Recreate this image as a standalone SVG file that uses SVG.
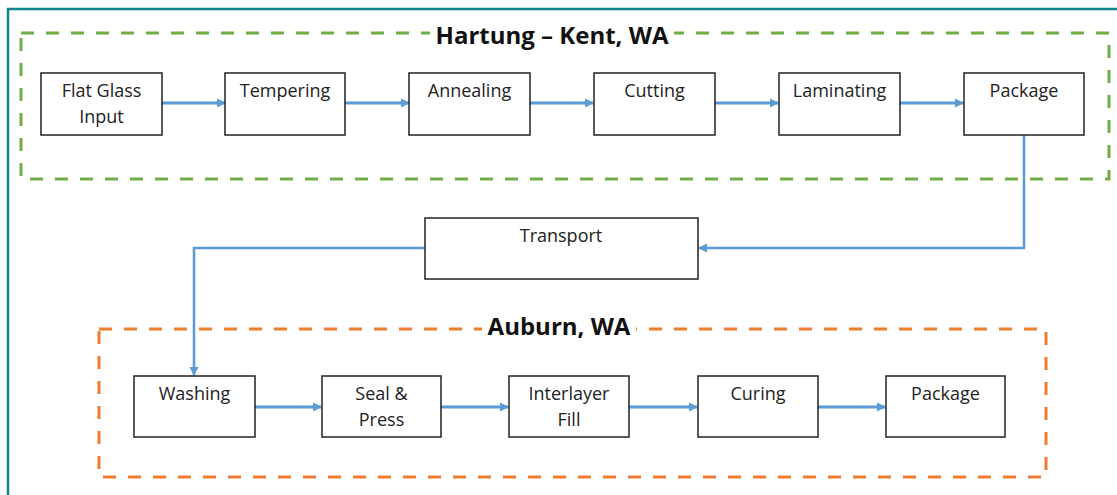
<svg xmlns="http://www.w3.org/2000/svg" width="1117" height="495" viewBox="0 0 1117 495">
<defs>
<marker id="ah" markerWidth="10" markerHeight="10" refX="8" refY="5" orient="auto" markerUnits="userSpaceOnUse">
<path d="M0,0.5 L9,5 L0,9.5 Z" fill="#5b9bd5"/>
</marker>
<style>
.box{fill:#fff;stroke:#222;stroke-width:1.5}
.t{font-family:"Open Sans","Liberation Sans",Arial,sans-serif;font-size:18px;fill:#222;text-anchor:middle}
.title{font-family:"Open Sans","Liberation Sans",Arial,sans-serif;font-weight:bold;font-size:24px;fill:#111;text-anchor:middle}
.c{fill:none;stroke:#5b9bd5;stroke-width:3;marker-end:url(#ah)}
.c2{fill:none;stroke:#5b9bd5;stroke-width:2.5;marker-end:url(#ah)}
</style>
</defs>
<rect width="1117" height="495" fill="#fff"/>
<g id="frame">
<path d="M8,495 L8,9 L1117,9" fill="none" stroke="#12848d" stroke-width="2.5"/>
</g>
<g id="groups">
<rect x="21" y="33" width="1088" height="146" fill="none" stroke="#70ad47" stroke-width="3" stroke-dasharray="13 12"/>
<rect x="430" y="20" width="244" height="26" fill="#fff"/>
<text class="title" x="552" y="44">Hartung – Kent, WA</text>
<rect x="99" y="329" width="947" height="148" fill="none" stroke="#ed7d31" stroke-width="3" stroke-dasharray="13 12"/>
<rect x="482" y="315" width="154" height="26" fill="#fff"/>
<text class="title" x="559" y="335">Auburn, WA</text>
</g>
<g id="connectors">
<line class="c" x1="162" y1="103" x2="225" y2="103"/>
<line class="c" x1="345" y1="103" x2="409" y2="103"/>
<line class="c" x1="530" y1="103" x2="593" y2="103"/>
<line class="c" x1="715" y1="103" x2="778" y2="103"/>
<line class="c" x1="900" y1="103" x2="963" y2="103"/>
<polyline class="c2" points="1024,135 1024,248 699,248"/>
<polyline class="c2" points="425,248 194,248 194,375"/>
<line class="c" x1="255" y1="407" x2="321" y2="407"/>
<line class="c" x1="441" y1="407" x2="508" y2="407"/>
<line class="c" x1="629" y1="407" x2="697" y2="407"/>
<line class="c" x1="818" y1="407" x2="885" y2="407"/>
</g>
<g id="n-flatglass"><rect class="box" x="41" y="73" width="121" height="62"/><text class="t" x="101.5" y="97">Flat Glass</text><text class="t" x="101.5" y="123">Input</text></g>
<g id="n-tempering"><rect class="box" x="225" y="73" width="120" height="62"/><text class="t" x="285" y="97">Tempering</text></g>
<g id="n-annealing"><rect class="box" x="409" y="73" width="121" height="62"/><text class="t" x="469.5" y="97">Annealing</text></g>
<g id="n-cutting"><rect class="box" x="594" y="73" width="121" height="62"/><text class="t" x="654.5" y="97">Cutting</text></g>
<g id="n-laminating"><rect class="box" x="779" y="73" width="121" height="62"/><text class="t" x="839.5" y="97">Laminating</text></g>
<g id="n-package1"><rect class="box" x="964" y="73" width="120" height="62"/><text class="t" x="1024" y="97">Package</text></g>
<g id="n-transport"><rect class="box" x="425" y="218" width="273" height="61"/><text class="t" x="561" y="242">Transport</text></g>
<g id="n-washing"><rect class="box" x="134" y="376" width="121" height="61"/><text class="t" x="194.5" y="400">Washing</text></g>
<g id="n-seal"><rect class="box" x="322" y="376" width="119" height="61"/><text class="t" x="381.5" y="400">Seal &amp;</text><text class="t" x="381.5" y="426">Press</text></g>
<g id="n-interlayer"><rect class="box" x="509" y="376" width="120" height="61"/><text class="t" x="569" y="400">Interlayer</text><text class="t" x="569" y="426">Fill</text></g>
<g id="n-curing"><rect class="box" x="698" y="376" width="120" height="61"/><text class="t" x="758" y="400">Curing</text></g>
<g id="n-package2"><rect class="box" x="886" y="376" width="119" height="61"/><text class="t" x="945.5" y="400">Package</text></g>
</svg>
